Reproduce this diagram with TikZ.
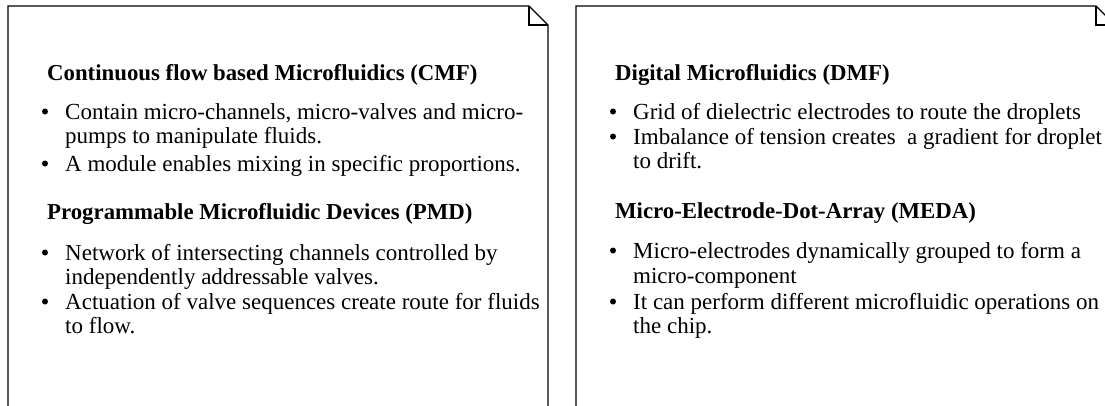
\documentclass[tikz,border=0pt]{standalone}
\usepackage{fontspec}
\setmainfont{Liberation Serif}
\begin{document}
\begin{tikzpicture}[x=1pt,y=-1pt,
  box/.style={draw=black,line width=1.2pt,line join=miter},
  hd/.style={anchor=base west,inner sep=0pt,font=\fontsize{22.8}{26}\selectfont\bfseries},
  tx/.style={anchor=base west,inner sep=0pt,font=\fontsize{23}{27}\selectfont},
  bl/.style={circle,fill=black,inner sep=0pt,minimum size=6pt,yshift=7.5pt}]
\useasboundingbox (0,0) rectangle (1105,405);
\clip (0,0) rectangle (1105,405);
% left note
\draw[box] (8,420) -- (8,6) -- (529,6) -- (548,25) -- (548,420);
\draw[box] (529,6) -- (529,25) -- (548,25);
% right note
\draw[box] (576,420) -- (576,6) -- (1096,6) -- (1115,25) -- (1115,420);
\draw[box] (1096,6) -- (1096,25) -- (1115,25);
% left texts
\node[hd] (h1) at (47,80) {Continuous flow based Microfluidics (CMF)};
\node[bl] (b1) at (45,119) {};
\node[tx] (t1a) at (65,119) {Contain micro-channels, micro-valves and micro-};
\node[tx] (t1b) at (65,143) {pumps to manipulate fluids.};
\node[bl] (b2) at (45,171) {};
\node[tx] (t2a) at (65,171) {A module enables mixing in specific proportions.};
\node[hd] (h2) at (47,219) {Programmable Microfluidic Devices (PMD)};
\node[bl] (b3) at (45,260) {};
\node[tx] (t3a) at (65,260) {Network of intersecting channels controlled by};
\node[tx] (t3b) at (65,284) {independently addressable valves.};
\node[bl] (b4) at (45,309) {};
\node[tx] (t4a) at (65,309) {Actuation of valve sequences create route for fluids};
\node[tx] (t4b) at (65,333) {to flow.};
% right texts
\node[hd] (h3) at (615,80) {Digital Microfluidics (DMF)};
\node[bl] (b5) at (613,119) {};
\node[tx] (t5a) at (633,119) {Grid of dielectric electrodes to route the droplets};
\node[bl] (b6) at (613,144) {};
\node[tx] (t6a) at (633,144) {Imbalance of tension creates\ \ a gradient for droplet};
\node[tx] (t6b) at (633,168) {to drift.};
\node[hd] (h4) at (615,218) {Micro-Electrode-Dot-Array (MEDA)};
\node[bl] (b7) at (613,258) {};
\node[tx] (t7a) at (633,258) {Micro-electrodes dynamically grouped to form a};
\node[tx] (t7b) at (633,283) {micro-component};
\node[bl] (b8) at (613,309) {};
\node[tx] (t8a) at (633,309) {It can perform different microfluidic operations on};
\node[tx] (t8b) at (633,333) {the chip.};
\end{tikzpicture}
\end{document}
